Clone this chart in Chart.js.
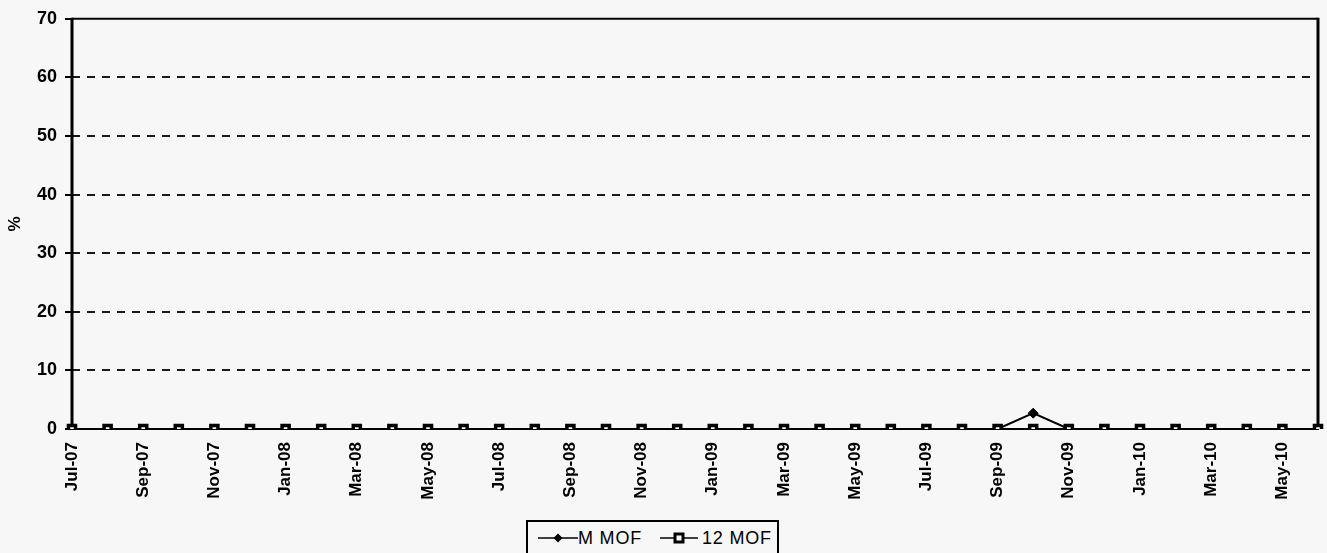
<!DOCTYPE html>
<html>
<head>
<meta charset="utf-8">
<script src="https://cdn.jsdelivr.net/npm/chart.js@4.4.1/dist/chart.umd.min.js"></script>
<style>
  html, body { margin: 0; padding: 0; background: #f7f7f7; }
  #wrap { position: relative; width: 1327px; height: 553px; overflow: hidden; }
  #legend {
    position: absolute; left: 526px; top: 520px; width: 253px; height: 45px;
    border: 2px solid #000; background: #f7f7f7; box-sizing: border-box;
    font-family: "Liberation Sans", Arial, sans-serif; font-size: 18px; color: #000;
  }
  #legend svg, #legend .t { position: absolute; }
  #legend .t { top: 5px; letter-spacing: 0.8px; line-height: 22px; white-space: nowrap; }
</style>
</head>
<body>
<div id="wrap">
  <canvas id="c" width="1327" height="553"></canvas>
  <div id="legend">
    <svg style="left:10px;top:10px" width="40" height="12"><line x1="0" y1="6" x2="40" y2="6" stroke="#000" stroke-width="1.5"/><polygon points="20,1.5 24.5,6 20,10.5 15.5,6" fill="#000"/></svg>
    <span class="t" style="left:50px">M MOF</span>
    <svg style="left:132px;top:10px" width="38" height="12"><line x1="0" y1="6" x2="38" y2="6" stroke="#000" stroke-width="1.5"/><rect x="15" y="2" width="8" height="8" fill="#fff" stroke="#000" stroke-width="3"/></svg>
    <span class="t" style="left:174px">12 MOF</span>
  </div>
</div>
<script>
const categories = ["Jul-07","Aug-07","Sep-07","Oct-07","Nov-07","Dec-07","Jan-08","Feb-08","Mar-08","Apr-08","May-08","Jun-08",
  "Jul-08","Aug-08","Sep-08","Oct-08","Nov-08","Dec-08","Jan-09","Feb-09","Mar-09","Apr-09","May-09","Jun-09",
  "Jul-09","Aug-09","Sep-09","Oct-09","Nov-09","Dec-09","Jan-10","Feb-10","Mar-10","Apr-10","May-10","Jun-10"];
const mMOF = [0,0,0,0,0,0,0,0,0,0,0,0, 0,0,0,0,0,0,0,0,0,0,0,0, 0,0,0,2.7,0,0,0,0,0,0,0,0];
const m12MOF = [0,0,0,0,0,0,0,0,0,0,0,0, 0,0,0,0,0,0,0,0,0,0,0,0, 0,0,0,0,0,0,0,0,0,0,0,0];
const yTicks = [0,10,20,30,40,50,60,70];

const CA = { left: 72, right: 1318, top: 17, bottom: 429 };
const FONT = '"Liberation Sans", Arial, sans-serif';

const bgPlugin = {
  id: 'bg',
  beforeDraw(chart) {
    const ctx = chart.ctx;
    ctx.save(); ctx.fillStyle = '#f7f7f7'; ctx.fillRect(0, 0, chart.width, chart.height); ctx.restore();
  }
};
const framePlugin = {
  id: 'frame',
  beforeDatasetsDraw(chart) {
    const a = chart.chartArea, ctx = chart.ctx;
    ctx.save();
    ctx.setLineDash([]);
    ctx.strokeStyle = '#000';
    ctx.lineWidth = 2;
    ctx.beginPath();
    ctx.moveTo(a.left, a.top); ctx.lineTo(a.right, a.top);
    ctx.stroke();
    ctx.lineWidth = 3;
    ctx.beginPath();
    ctx.moveTo(a.right, a.top - 1); ctx.lineTo(a.right, a.bottom);
    ctx.stroke();
    ctx.beginPath();
    ctx.moveTo(a.left, a.top - 1); ctx.lineTo(a.left, a.bottom);
    ctx.stroke();
    ctx.restore();
  }
};

new Chart(document.getElementById('c'), {
  type: 'line',
  data: {
    labels: categories,
    datasets: [
      { label: 'M MOF', data: mMOF, borderColor: '#000', backgroundColor: '#000', borderWidth: 2,
        pointStyle: 'rectRot', pointRadius: 5, pointBorderWidth: 1, order: 1, tension: 0 },
      { label: '12 MOF', data: m12MOF, borderColor: '#000', backgroundColor: '#fff', borderWidth: 2,
        pointStyle: 'rect', pointRadius: 5, pointBorderWidth: 3.5, order: 0, tension: 0 }
    ]
  },
  options: {
    responsive: false, animation: false,
    layout: { padding: { left: 0, right: 1327 - CA.right, top: CA.top, bottom: 0 } },
    plugins: { legend: { display: false }, tooltip: { enabled: false } },
    scales: {
      x: {
        offset: false,
        grid: { display: false, drawTicks: false },
        border: { display: true, color: '#000', width: 2 },
        ticks: {
          autoSkip: false, minRotation: 90, maxRotation: 90, padding: 13,
          color: '#000', font: { family: FONT, size: 17, weight: 'bold' },
          callback: (v, i) => (i % 2 === 0 ? categories[i] : '')
        },
        afterFit: s => { s.height = 553 - CA.bottom; s.paddingLeft = 0; s.paddingRight = 0; }
      },
      y: {
        min: 0, max: 70,
        afterBuildTicks: s => { s.ticks = yTicks.map(v => ({ value: v })); },
        grid: {
          color: c => (c.tick.value === 0 || c.tick.value === 70) ? 'rgba(0,0,0,0)' : '#1a1a1a',
          lineWidth: 2, drawTicks: true, tickLength: 7,
          tickColor: '#000', tickBorderDash: [], tickWidth: 2
        },
        border: { display: false, dash: [8, 7] },
        ticks: { color: '#000', padding: 8, font: { family: FONT, size: 18, weight: 'bold' } },
        title: { display: true, text: '%', color: '#000', padding: { top: 5, bottom: 0 },
          font: { family: FONT, size: 17, weight: 'bold' } },
        afterFit: s => { s.width = CA.left; }
      }
    }
  },
  plugins: [bgPlugin, framePlugin]
});
</script>
</body>
</html>
